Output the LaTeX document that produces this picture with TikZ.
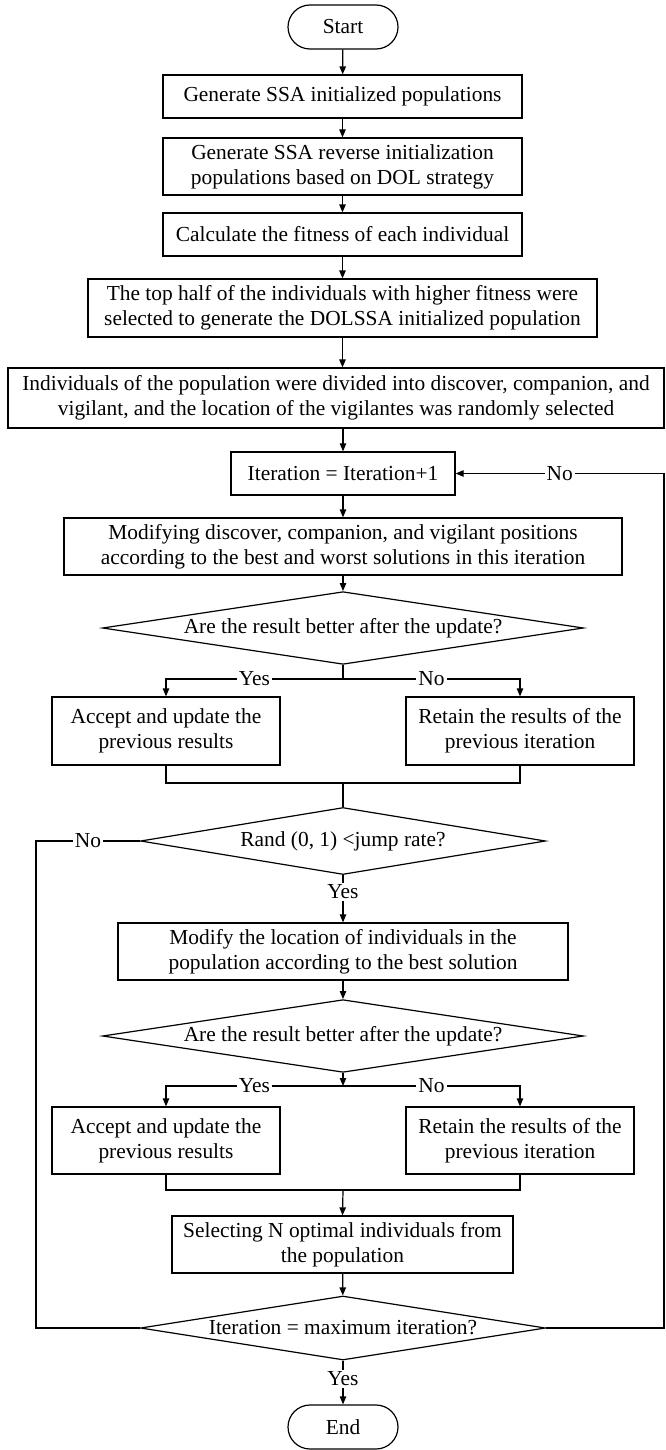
\documentclass[tikz,border=0pt]{standalone}
\usepackage{fontspec}
\setmainfont{Liberation Serif}
\usetikzlibrary{shapes.geometric}
\usetikzlibrary{arrows.meta, positioning}

\tikzset{
  termbox/.style={draw, rectangle, rounded corners=11pt, minimum width=55pt, minimum height=22pt, inner sep=0pt},
  procbox/.style={draw, rectangle, align=center, inner sep=0pt},
  decbox/.style={draw, diamond, aspect=6, inner sep=0pt},
  lbl/.style={fill=white, inner sep=1pt},
  arr/.style={-{Triangle[length=4pt,width=3.2pt]}}
}

\begin{document}
\begin{tikzpicture}[x=0.5pt, y=-0.5pt, line width=0.6pt, font=\fontsize{10.7}{12.5}\selectfont]
  \useasboundingbox (0,0) rectangle (665,1450);

  % Initialization
  \node[termbox] (start) at (343,27) {Start};
  \node[procbox, minimum width=179.5pt, minimum height=21.5pt] (gen) at (342.5,96.5) {Generate SSA initialized populations};
  \node[procbox, minimum width=179.5pt, minimum height=28.5pt] (rev) at (342.5,166.5) {Generate SSA reverse initialization\\populations based on DOL strategy};
  \node[procbox, minimum width=179.5pt, minimum height=21.5pt] (fit) at (342.5,234.5) {Calculate the fitness of each individual};
  \node[procbox, minimum width=254.5pt, minimum height=29pt] (half) at (342.5,308) {The top half of the individuals with higher fitness were\\selected to generate the DOLSSA initialized population};
  \node[procbox, minimum width=328pt, minimum height=30pt] (split) at (336,398) {Individuals of the population were divided into discover, companion, and\\vigilant, and the location of the vigilantes was randomly selected};

  % Main loop
  \node[procbox, minimum width=112pt, minimum height=21.5pt] (iter) at (343,473.5) {Iteration = Iteration+1};
  \node[procbox, minimum width=279pt, minimum height=28.5pt] (upd) at (343,546.5) {Modifying discover, companion, and vigilant positions\\according to the best and worst solutions in this iteration};
  \node[decbox, minimum width=240.5pt, minimum height=33.5pt] (chk1) at (343,628) {Are the result better after the update?};
  \node[procbox, minimum width=114pt, minimum height=34pt] (acc1) at (166,731) {Accept and update the\\previous results};
  \node[procbox, minimum width=114pt, minimum height=34pt] (ret1) at (520,731) {Retain the results of the\\previous iteration};

  % Jump step
  \node[decbox, minimum width=202.5pt, minimum height=33.5pt] (jump) at (343,841) {Rand (0, 1) <jump rate?};
  \node[procbox, minimum width=225pt, minimum height=28.5pt] (loc) at (343,951.5) {Modify the location of individuals in the\\population according to the best solution};
  \node[decbox, minimum width=240.5pt, minimum height=33.5pt] (chk2) at (343,1036) {Are the result better after the update?};
  \node[procbox, minimum width=114pt, minimum height=33.5pt] (acc2) at (166,1140.5) {Accept and update the\\previous results};
  \node[procbox, minimum width=114pt, minimum height=33.5pt] (ret2) at (520,1140.5) {Retain the results of the\\previous iteration};
  \node[procbox, minimum width=170.5pt, minimum height=28.5pt] (sel) at (342.5,1244.5) {Selecting N optimal individuals from\\the population};
  \node[decbox, minimum width=202.5pt, minimum height=32pt] (maxit) at (343,1328) {Iteration = maximum iteration?};
  \node[termbox] (stop) at (343,1427) {End};

  % Helper points
  \coordinate (br1) at (343,679);
  \coordinate (jn1) at (343,783);
  \coordinate (br2) at (343,1086);
  \coordinate (jn2) at (343,1190);
  \coordinate (lft) at (36,0);
  \coordinate (rgt) at (664,0);

  % Straight arrows
  \draw[arr] (start) -- (gen);
  \draw[arr] (gen) -- (rev);
  \draw[arr] (rev) -- (fit);
  \draw[arr] (fit) -- (half);
  \draw[arr] (half) -- (half.south |- split.north);
  \draw[arr] (split.south -| iter) -- (iter);
  \draw[arr] (iter) -- (upd);
  \draw[arr] (upd) -- (chk1);

  % First branch
  \draw (chk1.south) -- (br1);
  \draw[arr] (br1) -- node[lbl] {Yes} (br1 -| acc1) -- (acc1.north);
  \draw[arr] (br1) -- node[lbl] {No} (br1 -| ret1) -- (ret1.north);
  \draw (acc1.south) -- (acc1.south |- jn1) -- (ret1.south |- jn1) -- (ret1.south);
  \draw (jn1) -- (jump.north);

  % Second branch
  \draw[arr] (jump.south) -- node[lbl, pos=0.35] {Yes} (loc.north);
  \draw[arr] (loc) -- (chk2);
  \draw[arr] (chk2.south) -- (br2);
  \draw[arr] (br2) -- node[lbl] {Yes} (br2 -| acc2) -- (acc2.north);
  \draw[arr] (br2) -- node[lbl] {No} (br2 -| ret2) -- (ret2.north);
  \draw (acc2.south) -- (acc2.south |- jn2) -- (ret2.south |- jn2) -- (ret2.south);
  \draw[arr] (jn2) -- (sel.north);
  \draw[arr] (sel) -- (maxit);
  \draw[arr] (maxit.south) -- node[lbl, pos=0.42] {Yes} (stop.north);

  % Loops
  \draw (jump.west) -- node[lbl] {No} (jump.west -| lft) -- (maxit.west -| lft) -- (maxit.west);
  \draw[arr] (maxit.east) -- (maxit.east -| rgt) -- (iter.east -| rgt) -- node[lbl] {No} (iter.east);
\end{tikzpicture}
\end{document}
